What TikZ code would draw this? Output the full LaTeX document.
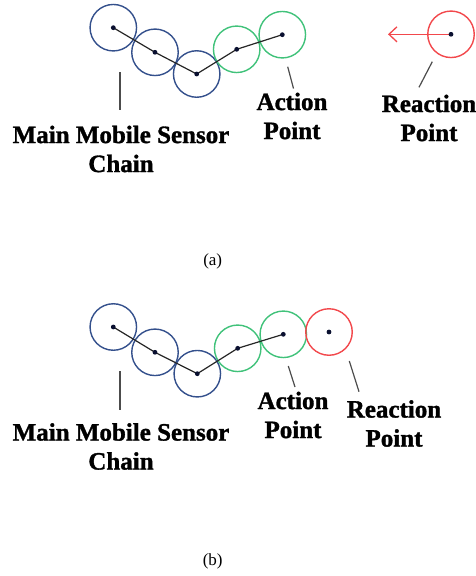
\documentclass[tikz,border=0pt]{standalone}
\usepackage{fontspec}
\setmainfont{Liberation Serif}[BoldFont={Liberation Serif Bold}, BoldFeatures={FakeBold=1.3}]
\usetikzlibrary{arrows.meta}
\definecolor{chainblue}{HTML}{34508C}
\definecolor{actgreen}{HTML}{40C27A}
\definecolor{reactred}{HTML}{F2484C}
\definecolor{dotnavy}{HTML}{0A1030}
\tikzset{
  sensor/.style={circle, draw=#1, line width=1.4pt, minimum size=46.5pt, inner sep=0pt},
  dotmark/.style={circle, fill=dotnavy, minimum size=4.8pt, inner sep=0pt},
  link/.style={draw=black!85, line width=1.2pt},
  leader/.style={draw=black!70, line width=1.2pt},
  tag/.style={font=\fontsize{25}{29}\selectfont\bfseries, align=center, inner sep=0pt},
  caption/.style={font=\fontsize{17}{20}\selectfont, inner sep=0pt}
}
\begin{document}
\begin{tikzpicture}[x=1pt, y=-1pt]
\useasboundingbox (0,0) rectangle (475,576);

% ---------- (a) ----------
\node[sensor=chainblue] (a1) at (113.3,27.7) {};
\node[sensor=chainblue] (a2) at (155,52.3) {};
\node[sensor=chainblue] (a3) at (196.7,74) {};
\node[sensor=actgreen]  (a4) at (236.7,49.3) {};
\node[sensor=actgreen]  (a5) at (282.3,34.7) {};
\node[sensor=reactred]  (ar) at (451,34.3) {};
\coordinate (atip) at (388,34.3);
\draw[draw=reactred, line width=1.3pt, -{Straight Barb[length=8pt,width=15pt,line width=1.3pt]}] (ar.center) -- (atip);
\path[link] (a1.center) -- (a2.center) -- (a3.center) -- (a4.center) -- (a5.center);
\foreach \n in {a1,a2,a3,a4,a5,ar} \node[dotmark] at (\n.center) {};

\coordinate (am0) at (120,72);   \coordinate (am1) at (120,110);
\coordinate (aa0) at (287.7,66.7); \coordinate (aa1) at (293.5,88.5);
\coordinate (ar0) at (432.3,61.7); \coordinate (ar1) at (419,87.3);
\path[leader] (am0) -- (am1);
\path[leader] (aa0) -- (aa1);
\path[leader] (ar0) -- (ar1);

\node[tag] (amain) at (121,149) {Main Mobile Sensor\\Chain};
\node[tag] (aact)  at (292,116) {Action\\Point};
\node[tag] (areact) at (429,118) {Reaction\\Point};
\node[caption] (capa) at (212.7,261.7) {(a)};

% ---------- (b) ----------
\node[sensor=chainblue] (b1) at (113.3,327) {};
\node[sensor=chainblue] (b2) at (155,352.3) {};
\node[sensor=chainblue] (b3) at (197.3,373.7) {};
\node[sensor=actgreen]  (b4) at (237.7,348.3) {};
\node[sensor=actgreen]  (b5) at (283.3,334.3) {};
\node[sensor=reactred]  (br) at (329,332) {};
\path[link] (b1.center) -- (b2.center) -- (b3.center) -- (b4.center) -- (b5.center);
\foreach \n in {b1,b2,b3,b4,b5,br} \node[dotmark] at (\n.center) {};

\coordinate (bm0) at (120,371);   \coordinate (bm1) at (120,410);
\coordinate (ba0) at (288.3,366); \coordinate (ba1) at (295,387);
\coordinate (br0) at (349.3,361); \coordinate (br1) at (359,391.7);
\path[leader] (bm0) -- (bm1);
\path[leader] (ba0) -- (ba1);
\path[leader] (br0) -- (br1);

\node[tag] (bmain) at (121,446.5) {Main Mobile Sensor\\Chain};
\node[tag] (bact)  at (293,415) {Action\\Point};
\node[tag] (breact) at (394,423.5) {Reaction\\Point};
\node[caption] (capb) at (212.7,561.3) {(b)};
\end{tikzpicture}
\end{document}
